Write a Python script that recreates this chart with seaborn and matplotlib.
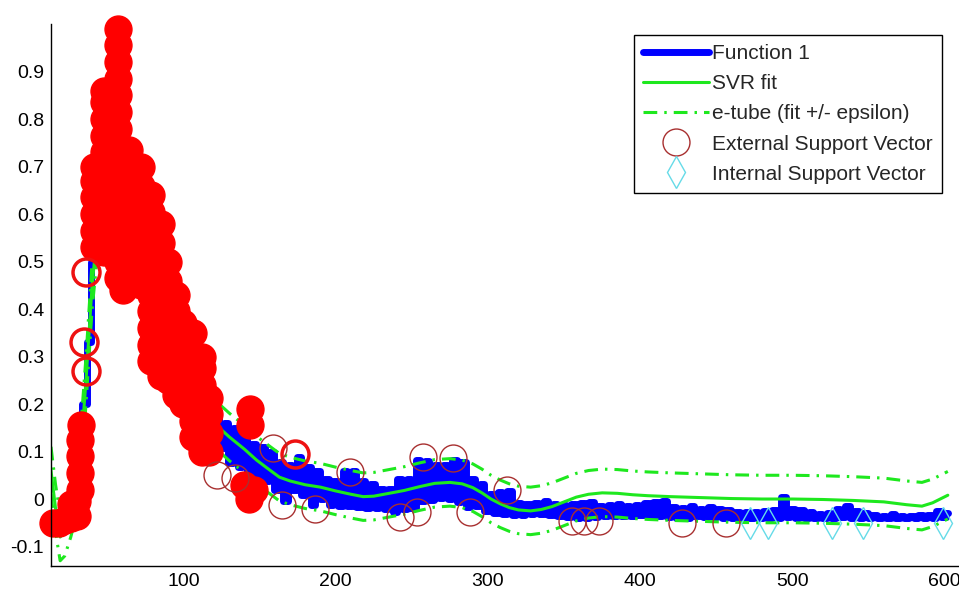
import numpy as np
import matplotlib
matplotlib.use("Agg")
import matplotlib.pyplot as plt
import seaborn as sns
from matplotlib.lines import Line2D

sns.set_style("white")
plt.rcParams["font.family"] = ["Liberation Sans", "DejaVu Sans"]

# ---------------- data ----------------
x_ticks = [100, 200, 300, 400, 500, 600]
x_tick_labels = ["100", "200", "300", "400", "500", "600"]
y_ticks = [-0.1, 0, 0.1, 0.2, 0.3, 0.4, 0.5, 0.6, 0.7, 0.8, 0.9]
y_tick_labels = ["-0.1", "0", "0.1", "0.2", "0.3", "0.4", "0.5", "0.6", "0.7", "0.8", "0.9"]

legend_labels = ["Function 1", "SVR fit", "e-tube (fit +/- epsilon)",
                 "External Support Vector", "Internal Support Vector"]

# Function 1: noisy signal sampled every 3 units from x=14.
# Samples at x = 14, 20, 26, ... (upper swings)
func_hi = [
    -0.04, -0.045, -0.02, 0.06, 0.33, 0.62, 0.80, 0.97, 0.72, 0.64,      # 14-68
    0.58, 0.52, 0.45, 0.38, 0.32, 0.27, 0.22,                            # 74-110
    0.18, 0.17, 0.16, 0.15, 0.13, 0.115, 0.11, 0.10, 0.078, 0.072,       # 116-170
    0.088, 0.068, 0.058, 0.043, 0.038, 0.058, 0.058, 0.037, 0.032, 0.022,  # 176-230
    0.022, 0.042, 0.042, 0.082, 0.08, 0.072, 0.072, 0.082, 0.077, 0.042,   # 236-290
    0.032, 0.01, 0.014, 0.017, -0.008, -0.01, -0.008, -0.005, -0.01, -0.012,  # 296-350
    -0.011, -0.008, -0.006, -0.014, -0.013, -0.011, -0.014, -0.012, -0.008, -0.006,  # 356-410
    -0.004, -0.016, -0.018, -0.014, -0.02, -0.016, -0.022, -0.024, -0.028, -0.027,  # 416-470
    -0.028, -0.026, -0.023, 0.005, -0.02, -0.023, -0.028, -0.032, -0.03, -0.02,  # 476-530
    -0.014, -0.026, -0.03, -0.034, -0.035, -0.032, -0.035, -0.036, -0.034, -0.033,  # 536-590
    -0.026, -0.03,                                                        # 596-602
]
# Samples at x = 17, 23, 29, ... (lower swings)
func_lo = [
    -0.05, -0.04, -0.01, 0.20, 0.50, 0.60, 0.75, 0.85, 0.66, 0.60,       # 17-71
    0.52, 0.46, 0.40, 0.34, 0.28, 0.22,                                  # 77-107
    0.128, 0.118, 0.108, 0.075, 0.068, 0.053, 0.043, 0.038, 0.018, -0.005,  # 113-167
    0.018, 0.008, -0.012, -0.001, -0.012, -0.015, -0.015, -0.017, -0.019, -0.019,  # 173-227
    -0.02, -0.028, -0.022, -0.019, -0.004, -0.002, 0.003, 0.0, -0.007, -0.017,  # 233-287
    -0.015, -0.026, -0.029, -0.032, -0.034, -0.034, -0.032, -0.032, -0.034, -0.035,  # 293-347
    -0.038, -0.039, -0.039, -0.038, -0.035, -0.036, -0.035, -0.036, -0.034, -0.036,  # 353-407
    -0.035, -0.037, -0.04, -0.039, -0.036, -0.037, -0.038, -0.041, -0.039, -0.039,  # 413-467
    -0.04, -0.039, -0.04, -0.039, -0.038, -0.039, -0.04, -0.039, -0.04, -0.04,  # 473-527
    -0.038, -0.039, -0.04, -0.041, -0.04, -0.041, -0.04, -0.041, -0.041, -0.04,  # 533-587
    -0.039, -0.038,                                                       # 593-599
]
func_x = list(range(14, 603, 3))
func_y = [0.0] * len(func_x)
func_y[0::2] = func_hi
func_y[1::2] = func_lo
assert len(func_hi) == 99 and len(func_lo) == 98

# SVR fit
fit_x = [13, 16, 19, 22, 26, 30, 33, 36, 38, 40, 44, 48, 52, 56, 60, 65, 70, 75, 80, 85,
         90, 95, 100, 105, 110, 115, 120, 130, 140, 148, 155, 163, 170, 180, 190, 200, 210, 218, 225, 235,
         245, 255, 265, 275, 283, 290, 296, 302, 308, 314, 320, 328, 335, 342, 350, 358, 366, 375, 385, 395,
         405, 420, 440, 460, 480, 500, 520, 540, 560, 575, 585, 592, 597, 602]
fit_y = [0.06, -0.02, -0.08, -0.07, -0.03, 0.02, 0.12, 0.25, 0.35, 0.45, 0.58, 0.68, 0.75, 0.76, 0.72, 0.66, 0.60, 0.55, 0.50, 0.44,
         0.38, 0.33, 0.28, 0.24, 0.21, 0.18, 0.16, 0.131, 0.105, 0.082, 0.065, 0.046, 0.038, 0.03, 0.025, 0.017, 0.01, 0.005, 0.006, 0.012,
         0.018, 0.026, 0.033, 0.035, 0.032, 0.024, 0.013, 0.0, -0.01, -0.018, -0.023, -0.025, -0.022, -0.016, -0.006, 0.004, 0.01, 0.013, 0.012, 0.009,
         0.007, 0.005, 0.003, 0.001, 0.0, 0.0, -0.001, -0.003, -0.006, -0.012, -0.015, -0.008, 0.0, 0.008]
epsilon = 0.05

# External support vectors: dense cluster around the peak
ext_dense_x = [14, 18, 22, 26, 26, 30, 30,
               32, 32, 32, 32, 33,
               41, 41, 41, 41, 41, 41,
               48, 48, 48, 48, 48, 48, 48, 48, 48, 48, 48,
               57, 57, 57, 57, 57, 57, 57, 57, 57, 57, 57, 57, 57, 57, 57, 57,
               60,
               64, 64, 64, 64, 64, 64, 64, 64, 64,
               72, 72, 72, 72, 72, 72, 72, 72,
               79, 79, 79, 79, 79, 79, 79, 79, 79, 79, 79,
               85, 85, 85, 85, 85, 85, 85, 85, 85, 85,
               90, 90, 90, 90, 90, 90, 90, 90,
               95, 95, 95, 95, 95, 95, 95,
               100, 100, 100, 100, 100, 100,
               106, 106, 106, 106, 106, 106, 106,
               112, 112, 112, 112, 112, 112, 112,
               117, 117, 117, 117,
               144, 144, 140, 143, 146]
ext_dense_y = [-0.05, -0.05, -0.045, -0.04, -0.01, -0.035, -0.005,
               0.02, 0.055, 0.09, 0.125, 0.155,
               0.53, 0.565, 0.60, 0.635, 0.67, 0.70,
               0.52, 0.555, 0.59, 0.625, 0.66, 0.695, 0.73, 0.765, 0.80, 0.835, 0.86,
               0.465, 0.50, 0.535, 0.57, 0.605, 0.64, 0.675, 0.71, 0.745, 0.78, 0.815, 0.85, 0.885, 0.92, 0.955, 0.99,
               0.44,
               0.46, 0.495, 0.53, 0.565, 0.60, 0.635, 0.67, 0.705, 0.735,
               0.45, 0.485, 0.52, 0.555, 0.59, 0.625, 0.66, 0.70,
               0.29, 0.325, 0.36, 0.395, 0.43, 0.465, 0.50, 0.535, 0.57, 0.605, 0.64,
               0.26, 0.295, 0.33, 0.365, 0.40, 0.435, 0.47, 0.505, 0.54, 0.58,
               0.25, 0.285, 0.32, 0.355, 0.39, 0.425, 0.46, 0.50,
               0.22, 0.255, 0.29, 0.325, 0.36, 0.395, 0.43,
               0.20, 0.235, 0.27, 0.305, 0.34, 0.37,
               0.13, 0.165, 0.20, 0.235, 0.27, 0.305, 0.35,
               0.10, 0.135, 0.17, 0.205, 0.24, 0.275, 0.30,
               0.10, 0.14, 0.18, 0.213,
               0.19, 0.155, 0.03, 0.0, 0.02]
assert len(ext_dense_x) == len(ext_dense_y)

# External support vectors drawn as bold red rings
ext_ring_x = [34.5, 35.7, 35.7, 173.5]
ext_ring_y = [0.33, 0.27, 0.478, 0.095]

# Isolated external support vectors
ext_x = [122, 134, 158.5, 165, 186.6, 209.6, 242.5, 253.5, 257, 277, 288.3, 312.5,
         355, 363, 373, 427.5, 456]
ext_y = [0.05, 0.045, 0.107, -0.013, -0.02, 0.057, -0.038, -0.027, 0.089, 0.087, -0.027, 0.019,
         -0.046, -0.046, -0.046, -0.05, -0.05]

# Internal support vectors
int_x = [472, 484, 526, 546, 599]
int_y = [-0.05, -0.05, -0.05, -0.05, -0.05]

# ---------------- style ----------------
BLUE = "#0000ff"
GREEN = "#1ee81e"
BROWN = "#a83030"
RED = "#ff0000"
CYAN = "#66dbe8"
DASHDOT = (0, (4.5, 2.3, 0.8, 2.3))
CIRCLE_MS = 19.4
DIAMOND_MS = 15.8

fig = plt.figure(figsize=(9.59, 5.93), dpi=100)
ax = fig.add_axes([51 / 959, 27 / 593, 909 / 959, 542 / 593])

common = dict(ax=ax, sort=False, estimator=None, errorbar=None, legend=False)

sns.lineplot(x=func_x, y=func_y, color=BLUE, linewidth=5, drawstyle="steps-mid", **common)
sns.lineplot(x=fit_x, y=fit_y, color=GREEN, linewidth=2.2, **common)
fx = np.array(fit_x)
fy = np.array(fit_y)
sns.lineplot(x=fx, y=fy + epsilon, color=GREEN, linewidth=2.2, linestyle=DASHDOT, **common)
sns.lineplot(x=fx, y=fy - epsilon, color=GREEN, linewidth=2.2, linestyle=DASHDOT, **common)

sns.lineplot(x=ext_dense_x, y=ext_dense_y, color=RED, linestyle="", marker="o",
             markersize=CIRCLE_MS, markerfacecolor=RED, markeredgecolor=RED,
             markeredgewidth=1.0, clip_on=False, **common)
sns.lineplot(x=ext_ring_x, y=ext_ring_y, color=RED, linestyle="", marker="o",
             markersize=CIRCLE_MS, markerfacecolor="none", markeredgecolor="#ee1111",
             markeredgewidth=2.5, clip_on=False, **common)
sns.lineplot(x=ext_x, y=ext_y, color=BROWN, linestyle="", marker="o",
             markersize=CIRCLE_MS, markerfacecolor="none", markeredgecolor=BROWN,
             markeredgewidth=1.0, clip_on=False, **common)
sns.lineplot(x=int_x, y=int_y, color=CYAN, linestyle="", marker="d",
             markersize=DIAMOND_MS, markerfacecolor="none", markeredgecolor=CYAN,
             markeredgewidth=1.0, clip_on=False, **common)

ax.set_xlim(13, 610)
ax.set_ylim(-0.141, 1.0)
ax.set_xticks(x_ticks)
ax.set_xticklabels(x_tick_labels)
ax.set_yticks(y_ticks)
ax.set_yticklabels(y_tick_labels)
ax.tick_params(direction="in", length=6.5, width=1, labelsize=14, colors="black")
ax.tick_params(axis="x", pad=5)
ax.tick_params(axis="y", pad=5)
for s in ["top", "right"]:
    ax.spines[s].set_visible(False)
for s in ["left", "bottom"]:
    ax.spines[s].set_color("black")
    ax.spines[s].set_linewidth(1.0)
ax.set_xlabel("")
ax.set_ylabel("")

handles = [
    Line2D([], [], color=BLUE, linewidth=5),
    Line2D([], [], color=GREEN, linewidth=2.2),
    Line2D([], [], color=GREEN, linewidth=2.2, linestyle=DASHDOT),
    Line2D([], [], linestyle="", marker="o", markersize=CIRCLE_MS,
           markerfacecolor="none", markeredgecolor=BROWN, markeredgewidth=1.0),
    Line2D([], [], linestyle="", marker="d", markersize=DIAMOND_MS,
           markerfacecolor="none", markeredgecolor=CYAN, markeredgewidth=1.0),
]
leg = ax.legend(handles, legend_labels, loc="upper right",
                bbox_to_anchor=(942 / 959, 1 - 35 / 593), bbox_transform=fig.transFigure,
                borderaxespad=0, fontsize=15, frameon=True, fancybox=False,
                edgecolor="black", framealpha=1, handlelength=3.15,
                handletextpad=0.15, borderpad=0.45, labelspacing=0.53)
leg.get_frame().set_linewidth(1.0)
leg.set_zorder(10)

fig.savefig("out.png", dpi=100)
